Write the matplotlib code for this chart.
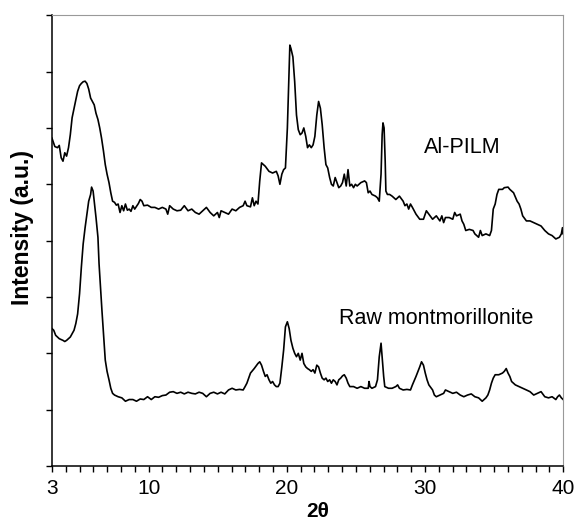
import numpy as np
import matplotlib
matplotlib.use("Agg")
import matplotlib.pyplot as plt
from matplotlib.ticker import MultipleLocator

plt.rcParams["font.family"] = ["Liberation Sans", "DejaVu Sans"]

# XRD patterns (2theta in degrees, intensity in a.u.)
pilm_2theta = [3.00, 3.21, 3.40, 3.53, 3.67, 3.80, 3.93, 4.06, 4.20, 4.33, 4.46, 4.60, 4.73, 4.86,
               5.00, 5.13, 5.26, 5.40, 5.53, 5.66, 5.80, 5.93, 6.06, 6.19, 6.33, 6.46, 6.59, 6.73,
               6.86, 6.99, 7.13, 7.26, 7.39, 7.53, 7.66, 7.79, 7.93, 8.06, 8.19, 8.32, 8.46, 8.59,
               8.72, 8.86, 8.99, 9.26, 9.39, 9.52, 9.65, 9.92, 10.19, 10.45, 10.72, 10.99, 11.25,
               11.38, 11.52, 11.78, 12.05, 12.32, 12.58, 12.85, 13.12, 13.38, 13.65, 13.91, 14.18,
               14.45, 14.71, 14.98, 15.11, 15.24, 15.51, 15.78, 16.04, 16.31, 16.58, 16.84, 16.98,
               17.11, 17.37, 17.51, 17.64, 17.77, 17.91, 18.04, 18.17, 18.31, 18.44, 18.71, 18.97,
               19.24, 19.37, 19.50, 19.64, 19.77, 19.90, 20.04, 20.17, 20.22, 20.30, 20.44, 20.57,
               20.70, 20.83, 20.97, 21.10, 21.23, 21.37, 21.50, 21.63, 21.77, 21.90, 22.03, 22.17,
               22.30, 22.43, 22.56, 22.70, 22.83, 22.96, 23.10, 23.23, 23.36, 23.50, 23.63, 23.76,
               23.90, 24.03, 24.16, 24.30, 24.43, 24.56, 24.69, 24.83, 24.96, 25.09, 25.36, 25.63,
               25.76, 25.89, 26.02, 26.16, 26.42, 26.56, 26.69, 26.82, 26.90, 26.96, 27.04, 27.12,
               27.17, 27.28, 27.44, 27.62, 27.89, 28.15, 28.42, 28.55, 28.69, 28.82, 28.95, 29.09,
               29.35, 29.62, 29.89, 30.10, 30.28, 30.55, 30.82, 31.08, 31.22, 31.35, 31.48, 31.75,
               32.01, 32.15, 32.28, 32.55, 32.68, 32.81, 32.95, 33.21, 33.48, 33.61, 33.88, 34.01,
               34.14, 34.41, 34.68, 34.81, 34.94, 35.08, 35.21, 35.34, 35.61, 35.74, 36.01, 36.14,
               36.41, 36.67, 36.81, 36.94, 37.07, 37.34, 37.60, 37.87, 38.14, 38.40, 38.67, 38.94,
               39.20, 39.47, 39.73, 39.87, 39.95, 40.00]
pilm_int = [582, 567, 565, 569, 547, 541, 556, 550, 565, 588, 618, 635, 650, 665,
            675, 679, 682, 683, 679, 669, 653, 647, 641, 626, 615, 600, 582, 559,
            535, 518, 503, 485, 470, 468, 463, 465, 450, 462, 453, 465, 454, 456,
            452, 462, 456, 466, 473, 470, 462, 463, 459, 459, 456, 459, 456,
            447, 462, 456, 453, 454, 462, 453, 456, 450, 447, 453, 459,
            450, 444, 450, 441, 453, 450, 447, 456, 453, 459, 462, 470,
            462, 460, 476, 462, 470, 465, 506, 538, 535, 532, 523, 520,
            523, 515, 500, 518, 526, 529, 600, 706, 747, 741, 726, 682,
            623, 597, 588, 591, 600, 585, 565, 570, 565, 570, 585, 623,
            647, 635, 606, 565, 535, 529, 512, 500, 497, 512, 503, 494,
            497, 503, 518, 497, 526, 497, 500, 494, 500, 497, 503, 506,
            503, 485, 488, 482, 479, 476, 470, 518, 588, 609, 600, 541,
            488, 482, 482, 479, 473, 479, 470, 462, 465, 456, 465, 459,
            447, 438, 438, 453, 447, 438, 444, 435, 444, 432, 441, 441,
            438, 450, 444, 447, 435, 429, 418, 420, 418, 412, 406, 418,
            409, 412, 409, 418, 456, 465, 482, 491, 491, 494, 495, 491,
            485, 470, 465, 456, 444, 435, 435, 432, 429, 426, 418, 412,
            409, 403, 406, 412, 423, 412]

raw_2theta = [3.00, 3.13, 3.27, 3.53, 3.80, 3.93, 4.06, 4.33, 4.60, 4.73, 4.86, 5.00, 5.13,
              5.26, 5.40, 5.53, 5.66, 5.80, 5.87, 5.98, 6.06, 6.19, 6.33, 6.41, 6.51, 6.62,
              6.73, 6.86, 6.99, 7.13, 7.26, 7.39, 7.53, 7.79, 8.06, 8.32, 8.59, 8.86, 9.12,
              9.39, 9.65, 9.92, 10.19, 10.45, 10.72, 10.99, 11.25, 11.52, 11.78, 12.05, 12.32,
              12.58, 12.85, 13.12, 13.38, 13.65, 13.91, 14.18, 14.45, 14.71, 14.98, 15.24,
              15.51, 15.78, 16.04, 16.31, 16.58, 16.84, 16.98, 17.11, 17.37, 17.64, 17.91,
              18.04, 18.17, 18.31, 18.44, 18.57, 18.71, 18.84, 18.97, 19.11, 19.24, 19.37,
              19.50, 19.64, 19.77, 19.90, 20.04, 20.17, 20.30, 20.44, 20.57, 20.70, 20.83,
              20.97, 21.10, 21.23, 21.37, 21.50, 21.63, 21.77, 21.90, 22.03, 22.17, 22.30,
              22.43, 22.56, 22.70, 22.83, 22.96, 23.10, 23.23, 23.36, 23.50, 23.63, 23.76,
              23.90, 24.03, 24.16, 24.30, 24.43, 24.56, 24.83, 25.09, 25.36, 25.63, 25.89,
              25.95, 26.02, 26.16, 26.42, 26.56, 26.69, 26.82, 26.90, 27.01, 27.09, 27.36,
              27.62, 27.89, 28.02, 28.15, 28.42, 28.69, 28.95, 29.09, 29.35, 29.62, 29.75,
              29.89, 30.02, 30.15, 30.28, 30.55, 30.68, 30.82, 31.08, 31.35, 31.48, 31.75,
              32.01, 32.28, 32.55, 32.81, 33.08, 33.35, 33.61, 33.88, 34.14, 34.28, 34.41,
              34.55, 34.68, 34.81, 34.94, 35.08, 35.34, 35.61, 35.74, 35.88, 36.01, 36.14,
              36.27, 36.54, 36.81, 37.07, 37.34, 37.60, 37.87, 38.14, 38.40, 38.67, 38.94,
              39.20, 39.47, 39.60, 39.73, 39.87, 40.00]
raw_int = [244, 241, 232, 226, 223, 221, 223, 229, 241, 253, 270, 306, 353,
           394, 423, 447, 470, 482, 495, 488, 470, 441, 406, 359, 318, 276,
           235, 188, 168, 153, 138, 129, 126, 123, 121, 115, 118, 118, 115,
           119, 118, 123, 118, 123, 122, 125, 126, 131, 132, 129, 131,
           128, 131, 129, 128, 131, 129, 123, 129, 131, 128, 131,
           128, 135, 138, 135, 136, 135, 141, 147, 165, 173, 182,
           185, 179, 168, 159, 162, 153, 147, 150, 144, 141, 141,
           147, 176, 206, 247, 256, 244, 223, 209, 200, 194, 200,
           188, 200, 182, 176, 173, 171, 168, 171, 165, 179, 176,
           165, 156, 153, 156, 150, 153, 147, 153, 150, 144, 153,
           156, 160, 162, 156, 147, 141, 141, 138, 141, 138, 138,
           150, 141, 138, 141, 153, 194, 218, 194, 159, 141, 138,
           138, 141, 144, 138, 135, 136, 135, 144, 159, 176, 185,
           179, 165, 153, 144, 135, 126, 123, 126, 129, 135, 132,
           129, 131, 126, 123, 126, 128, 123, 121, 115, 118, 121,
           126, 135, 147, 156, 162, 162, 165, 168, 173, 165, 159,
           150, 144, 141, 138, 135, 132, 126, 129, 132, 123, 121,
           123, 118, 123, 126, 121, 118]

xticks = [3, 10, 20, 30, 40]

fig = plt.figure(figsize=(5.77, 5.26), dpi=100)
ax = fig.add_axes([0.090, 0.114, 0.886, 0.857])

ax.plot(pilm_2theta, pilm_int, color="black", lw=1.2)
ax.plot(raw_2theta, raw_int, color="black", lw=1.2)

ax.text(29.9, 566, "Al-PILM", fontsize=15.5, va="center", ha="left")
ax.text(23.76, 262, "Raw montmorillonite", fontsize=15.5, va="center", ha="left")

ax.set_xlim(3, 40)
ax.set_ylim(0, 800)
ax.set_xticks(xticks)
ax.xaxis.set_minor_locator(MultipleLocator(1))
ax.yaxis.set_major_locator(MultipleLocator(100))
ax.set_yticklabels([])
ax.tick_params(axis="both", which="both", direction="out", length=4, width=1, color="black")
ax.tick_params(axis="x", labelsize=15, pad=5)

for side in ["top", "right"]:
    ax.spines[side].set_color("#999999")
for side in ["left", "bottom"]:
    ax.spines[side].set_color("black")
    ax.spines[side].set_linewidth(1.1)

ax.set_ylabel("Intensity (a.u.)", fontsize=16.5, fontweight="bold")
ax.yaxis.set_label_coords(-0.035, 0.53)
ax.set_xlabel("2θ", fontsize=15, fontweight="bold", va="center")
ax.xaxis.set_label_coords(0.52, -0.1)

fig.savefig("out.png", dpi=100)
